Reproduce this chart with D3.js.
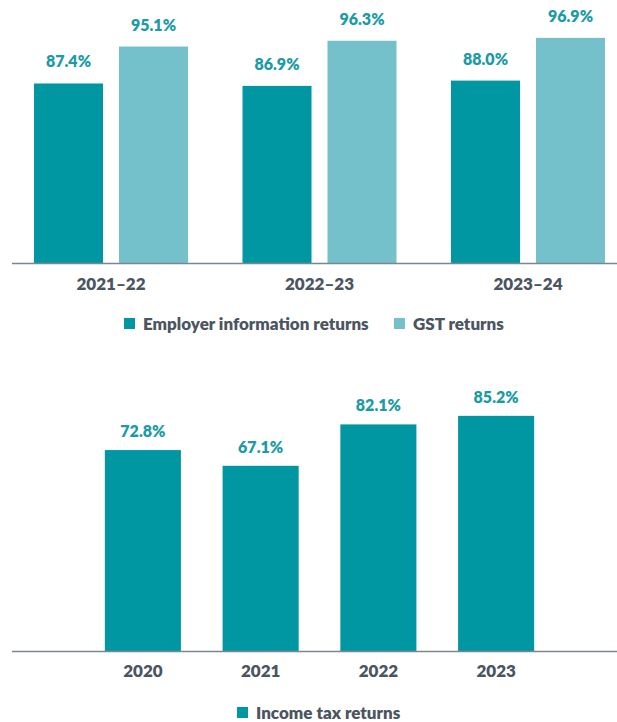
<!DOCTYPE html>
<html><head><meta charset="utf-8">
<script src="https://cdn.jsdelivr.net/npm/d3@7"></script>
<style>
html,body{margin:0;padding:0;background:#fff;}
svg text{font-family:Lato,"Open Sans",sans-serif;font-weight:800;}
</style></head>
<body>
<svg id="chart" width="617" height="722"></svg>
<script>
// Top chart data
const periods = ["2021–22", "2022–23", "2023–24"];
const topSeries = ["Employer information returns", "GST returns"];
const employerValues = [87.4, 86.9, 88.0];
const gstValues = [95.1, 96.3, 96.9];
// Bottom chart data
const years = ["2020", "2021", "2022", "2023"];
const bottomSeries = ["Income tax returns"];
const incomeTaxValues = [72.8, 67.1, 82.1, 85.2];

const colors = {dark: "#0097a3", light: "#74c1cc", label: "#1b9ba6", text: "#4a5561", axis: "#7d868e"};
const svg = d3.select("#chart");

// ---------- Top chart ----------
const topData = periods.map((p, i) => ({period: p, values: [
  {key: topSeries[0], v: employerValues[i]},
  {key: topSeries[1], v: gstValues[i]}
]}));
const x0 = d3.scaleBand().domain(periods).range([12, 627]).paddingInner(0.2614).paddingOuter(0.1055);
const x1 = d3.scaleBand().domain(topSeries).range([0, x0.bandwidth()]).paddingInner(0.188);
const yTop = d3.scaleLinear().domain([50, 100]).range([263, 23]);
const cTop = d3.scaleOrdinal().domain(topSeries).range([colors.dark, colors.light]);

const gTop = svg.append("g");
const groups = gTop.selectAll("g.grp").data(topData).join("g")
  .attr("transform", d => `translate(${x0(d.period)},0)`);
groups.selectAll("rect").data(d => d.values).join("rect")
  .attr("x", d => x1(d.key)).attr("width", x1.bandwidth())
  .attr("y", d => yTop(d.v)).attr("height", d => yTop(50) - yTop(d.v))
  .attr("fill", d => cTop(d.key));
groups.selectAll("text").data(d => d.values).join("text")
  .attr("x", d => x1(d.key) + x1.bandwidth() / 2)
  .attr("y", d => yTop(d.v) - 16)
  .attr("text-anchor", "middle").attr("fill", colors.label)
  .style("font-size", "16px")
  .text(d => d.v.toFixed(1) + "%");

const axTop = gTop.append("g").attr("transform", "translate(0,263)")
  .call(d3.axisBottom(x0).tickSize(0).tickPadding(15));
axTop.select(".domain").remove();
axTop.selectAll("text").attr("fill", colors.text).style("font-size", "17px")
  .attr("dy", "0.71em");
gTop.append("line").attr("x1", 12).attr("x2", 617).attr("y1", 263.5).attr("y2", 263.5)
  .attr("stroke", colors.axis).attr("stroke-width", 1.5);

// top legend
const legTopItems = [{key: topSeries[0], x: 124}, {key: topSeries[1], x: 394}];
const legTop = gTop.selectAll("g.leg").data(legTopItems).join("g")
  .attr("transform", d => `translate(${d.x},318)`);
legTop.append("rect").attr("width", 11).attr("height", 11).attr("fill", d => cTop(d.key));
legTop.append("text").attr("x", 19).attr("y", 11.5).attr("fill", colors.text)
  .style("font-size", "17px").text(d => d.key);

// ---------- Bottom chart ----------
const xb = d3.scaleBand().domain(years).range([84, 555]).paddingInner(0.354).paddingOuter(0.177);
const yb = d3.scaleLinear().domain([0, 100]).range([651, 375]);
const gBot = svg.append("g");
const botData = years.map((y, i) => ({year: y, v: incomeTaxValues[i]}));
gBot.selectAll("rect.bar").data(botData).join("rect")
  .attr("class", "bar")
  .attr("x", d => xb(d.year)).attr("width", xb.bandwidth())
  .attr("y", d => yb(d.v)).attr("height", d => yb(0) - yb(d.v))
  .attr("fill", colors.dark);
gBot.selectAll("text.val").data(botData).join("text")
  .attr("class", "val")
  .attr("x", d => xb(d.year) + xb.bandwidth() / 2)
  .attr("y", d => yb(d.v) - 13)
  .attr("text-anchor", "middle").attr("fill", colors.label)
  .style("font-size", "16px")
  .text(d => d.v.toFixed(1) + "%");
const axBot = gBot.append("g").attr("transform", "translate(0,651)")
  .call(d3.axisBottom(xb).tickSize(0).tickPadding(14));
axBot.select(".domain").remove();
axBot.selectAll("text").attr("fill", colors.text).style("font-size", "17px")
  .attr("dy", "0.71em");
gBot.append("line").attr("x1", 12).attr("x2", 617).attr("y1", 651.5).attr("y2", 651.5)
  .attr("stroke", colors.axis).attr("stroke-width", 1.5);

const legBot = gBot.append("g").attr("transform", "translate(237,707)");
legBot.append("rect").attr("width", 11).attr("height", 11).attr("fill", colors.dark);
legBot.append("text").attr("x", 19).attr("y", 11.5).attr("fill", colors.text)
  .style("font-size", "17px").text(bottomSeries[0]);
</script>
</body></html>
